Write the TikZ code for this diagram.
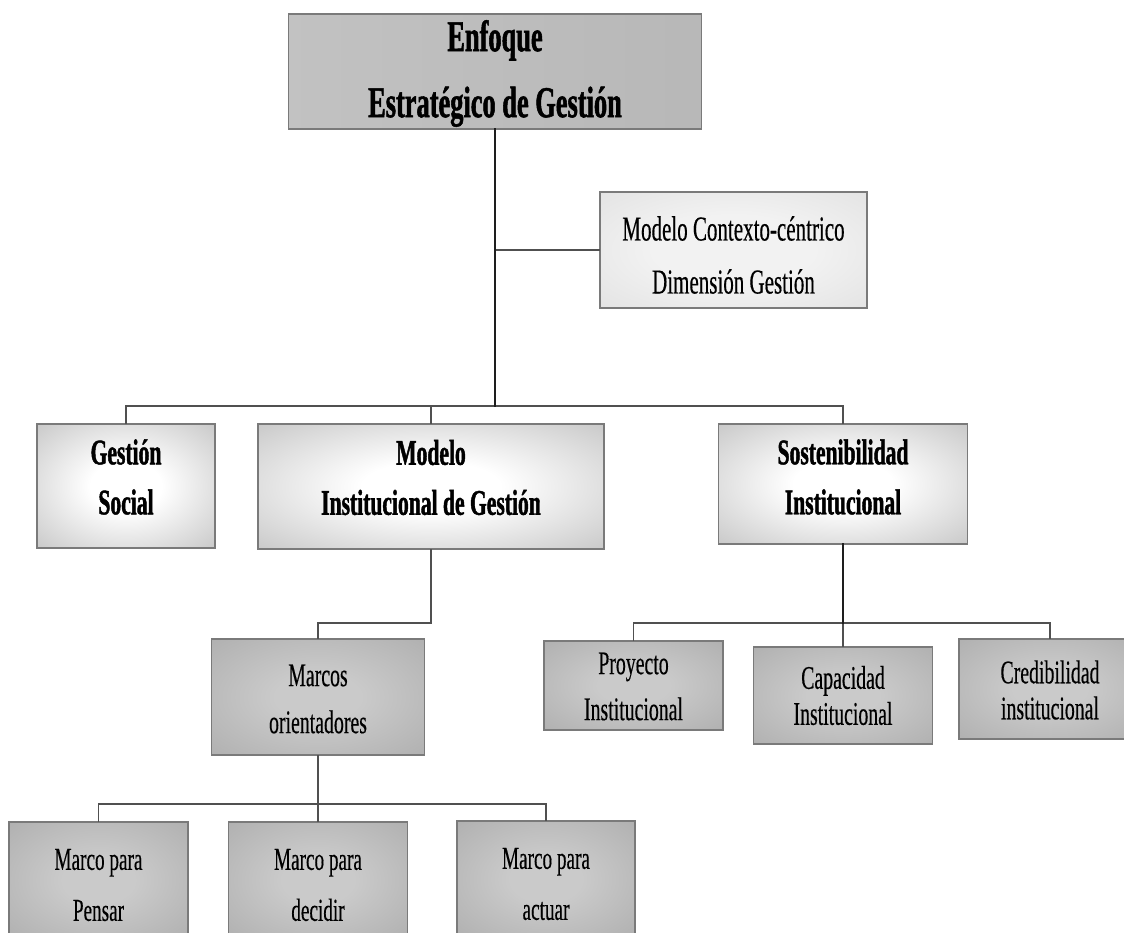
\documentclass[tikz,border=0pt]{standalone}
\usepackage{fontspec}
\setmainfont{Liberation Serif}[FakeStretch=0.6, UprightFeatures={FakeBold=0.35}, BoldFeatures={FakeBold=1.2}]
\definecolor{boxedge}{HTML}{7A7A7A}
\definecolor{wirecol}{HTML}{505050}
\definecolor{trunkcol}{HTML}{1E1E1E}
\definecolor{midout}{HTML}{A6A6A6}
\definecolor{lowin}{HTML}{CACACA}
\definecolor{lowout}{HTML}{A0A0A0}
\definecolor{ctxin}{HTML}{F2F2F2}
\definecolor{ctxout}{HTML}{D6D6D6}
% soft radial fills that keep their gradient all the way to the border
\pgfdeclareradialshading{midshade}{\pgfpoint{0bp}{0bp}}{color(0bp)=(white); color(10bp)=(white); color(52bp)=(midout); color(72bp)=(midout)}
\pgfdeclareradialshading{lowshade}{\pgfpoint{0bp}{0bp}}{color(0bp)=(lowin); color(10bp)=(lowin); color(52bp)=(lowout); color(72bp)=(lowout)}
\pgfdeclareradialshading{ctxshade}{\pgfpoint{0bp}{0bp}}{color(0bp)=(ctxin); color(15bp)=(ctxin); color(55bp)=(ctxout); color(72bp)=(ctxout)}
\begin{document}
\begin{tikzpicture}[x=1pt,y=-1pt,
  box/.style={draw=boxedge, line width=1.3pt, inner sep=0pt},
  txt/.style={align=center, inner sep=0pt},
  headbox/.style={box, left color=black!24, middle color=white, right color=black!28},
  headtxt/.style={txt, font=\bfseries\fontsize{44}{66}\selectfont},
  ctxbox/.style={box, shade, shading=ctxshade},
  ctxtxt/.style={txt, font=\fontsize{35}{53}\selectfont},
  midbox/.style={box, shade, shading=midshade},
  midtxt/.style={txt, font=\bfseries\fontsize{36}{50}\selectfont},
  lowbox/.style={box, shade, shading=lowshade},
  lowtxt/.style={txt, font=\fontsize{33}{47}\selectfont},
  wire/.style={draw=wirecol, line width=1.6pt, line cap=rect},
  trunk/.style={draw=trunkcol, line width=2.4pt, line cap=rect}
]
\useasboundingbox (0,0) rectangle (1124,933);
\clip (0,0) rectangle (1124,933);

% top of the hierarchy
\node[headbox, minimum width=413pt, minimum height=115pt,
  label={[name=topT, headtxt, yshift=-2pt]center:Enfoque\\Estratégico de Gestión}] (top) at (495,71.5) {};
\node[ctxbox, minimum width=267pt, minimum height=116pt,
  label={[name=ctxT, ctxtxt, yshift=-5pt]center:Modelo Contexto-céntrico\\Dimensión Gestión}] (ctx) at (733.5,250) {};

% second level
\node[midbox, minimum width=178pt, minimum height=124pt,
  label={[name=gsT, midtxt, yshift=9pt]center:Gestión\\Social}] (gs) at (126,486) {};
\node[midbox, minimum width=346pt, minimum height=125pt,
  label={[name=migT, midtxt, yshift=9pt]center:Modelo\\Institucional de Gestión}] (mig) at (431,486.5) {};
\node[midbox, minimum width=249pt, minimum height=120pt,
  label={[name=sosT, midtxt, yshift=7pt]center:Sostenibilidad\\Institucional}] (sos) at (843,484) {};

% frameworks branch
\node[lowbox, minimum width=213pt, minimum height=116pt,
  label={[name=marcosT, lowtxt, yshift=-2pt]center:Marcos\\orientadores}] (marcos) at (318,697) {};
\node[lowbox, minimum width=179pt, minimum height=116pt,
  label={[name=pensarT, lowtxt, font=\fontsize{32}{51}\selectfont, yshift=-5pt]center:Marco para\\Pensar}] (pensar) at (98.5,880) {};
\node[lowbox, minimum width=179pt, minimum height=116pt,
  label={[name=decidirT, lowtxt, font=\fontsize{32}{51}\selectfont, yshift=-5pt]center:Marco para\\decidir}] (decidir) at (318,880) {};
\node[lowbox, minimum width=178pt, minimum height=116pt,
  label={[name=actuarT, lowtxt, font=\fontsize{32}{51}\selectfont, yshift=-5pt]center:Marco para\\actuar}] (actuar) at (546,879) {};

% sustainability branch
\node[lowbox, minimum width=179pt, minimum height=89pt,
  label={[name=proyT, lowtxt, font=\fontsize{33}{46}\selectfont, yshift=-1pt]center:Proyecto\\Institucional}] (proy) at (633.5,685.5) {};
\node[lowbox, minimum width=179pt, minimum height=97pt,
  label={[name=capT, lowtxt, font=\fontsize{33}{36}\selectfont]center:Capacidad\\Institucional}] (cap) at (843,695.5) {};
\node[lowbox, minimum width=182pt, minimum height=100pt,
  label={[name=credT, lowtxt, font=\fontsize{33}{36}\selectfont, yshift=-1pt]center:Credibilidad\\institucional}] (cred) at (1050,689) {};

% bus levels
\coordinate (busA) at (0,406);
\coordinate (busB) at (0,623);
\coordinate (busC) at (0,623);
\coordinate (busD) at (0,804);

% connectors
\draw[wire] (top.south |- ctx.west) -- (ctx.west);
\draw[wire] (gs.north) -- (gs.north |- busA) -- (sos.north |- busA) -- (sos.north);
\draw[wire] (mig.north) -- (mig.north |- busA);
\draw[trunk] (top.south) -- (top.south |- busA);

\draw[wire] (mig.south) -- (mig.south |- busB) -- (marcos.north |- busB) -- (marcos.north);

\draw[wire] (proy.north) -- (proy.north |- busC) -- (cred.north |- busC) -- (cred.north);
\draw[wire] (cap.north) -- (cap.north |- busC);
\draw[trunk] (sos.south) -- (sos.south |- busC);

\draw[wire] (marcos.south) -- (marcos.south |- busD);
\draw[wire] (pensar.north) -- (pensar.north |- busD) -- (actuar.north |- busD) -- (actuar.north);
\draw[wire] (decidir.north) -- (decidir.north |- busD);
\end{tikzpicture}
\end{document}
